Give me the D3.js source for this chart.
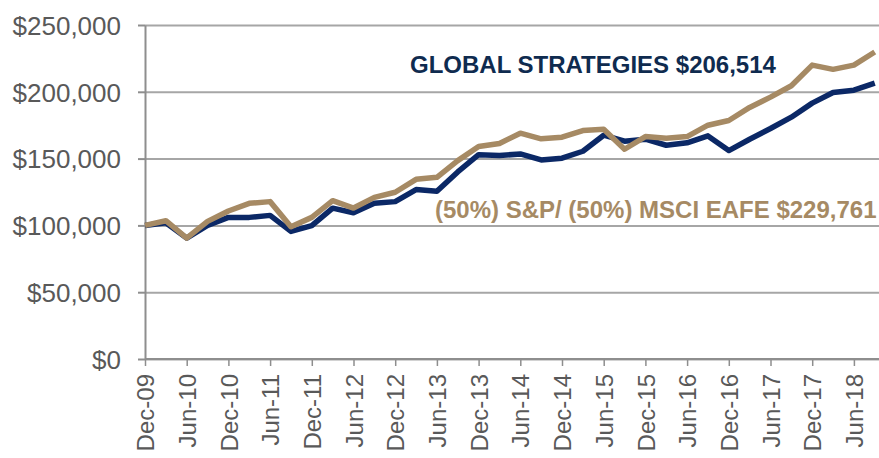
<!DOCTYPE html>
<html>
<head>
<meta charset="utf-8">
<script src="https://cdn.jsdelivr.net/npm/d3@7"></script>
<style>
  body { margin: 0; background: #fff; }
  svg { display: block; font-family: Arial, "Liberation Sans", sans-serif; }
</style>
</head>
<body>
<div id="chart"></div>
<script>
// Quarter-end labels, Dec-09 .. Sep-18
const quarters = [
  "Dec-09","Mar-10","Jun-10","Sep-10","Dec-10","Mar-11","Jun-11","Sep-11",
  "Dec-11","Mar-12","Jun-12","Sep-12","Dec-12","Mar-13","Jun-13","Sep-13",
  "Dec-13","Mar-14","Jun-14","Sep-14","Dec-14","Mar-15","Jun-15","Sep-15",
  "Dec-15","Mar-16","Jun-16","Sep-16","Dec-16","Mar-17","Jun-17","Sep-17",
  "Dec-17","Mar-18","Jun-18","Sep-18"
];

// Growth of $100,000
const strategy = [
  100000, 102000, 90500, 100000, 106000, 106000, 107500, 95500,
  99800, 112900, 109500, 116500, 117800, 126800, 125500, 140000,
  152900, 152300, 153500, 149000, 150300, 155500, 167500, 163000,
  164500, 160000, 161800, 167000, 156000, 164500, 172500, 181000,
  191500, 199500, 201200, 206514
];
const benchmark = [
  100000, 103500, 90500, 103000, 110800, 116500, 117800, 99000,
  106000, 118500, 113000, 121000, 124800, 134500, 136000, 148500,
  159000, 161300, 169000, 164800, 166000, 171000, 172000, 157000,
  166500, 165200, 166500, 175000, 178500, 188300, 196000, 204500,
  220000, 216800, 220000, 229761
];

const yTicks = [0, 50000, 100000, 150000, 200000, 250000];
const xTickLabels = quarters.filter((d, i) => i % 2 === 0);

const strategyLabel = "GLOBAL STRATEGIES $206,514";
const benchmarkLabel = "(50%) S&P/ (50%) MSCI EAFE $229,761";

const W = 879, H = 458;
const margin = {left: 145, right: 879, top: 25, bottom: 359};
const step = 20.85;

const svg = d3.select("#chart").append("svg")
  .attr("width", W).attr("height", H);

const x = d3.scalePoint()
  .domain(quarters)
  .range([margin.left, margin.left + step * (quarters.length - 1)]);

const y = d3.scaleLinear()
  .domain([0, 250000])
  .range([margin.bottom, margin.top]);

const gray = "#8e8e8e";

// gridlines
svg.append("g")
  .attr("transform", `translate(${margin.left},0)`)
  .call(d3.axisLeft(y).tickValues(yTicks).tickSize(-(margin.right - margin.left)).tickFormat(""))
  .call(g => g.select(".domain").remove())
  .call(g => g.selectAll("line").attr("stroke", "#a6a6a6").attr("stroke-width", 2));

// y axis
svg.append("g")
  .attr("transform", `translate(${margin.left},0)`)
  .call(d3.axisLeft(y).tickValues(yTicks).tickSize(7).tickSizeOuter(0).tickPadding(17)
    .tickFormat(d => "$" + d3.format(",")(d)))
  .call(g => g.select(".domain").attr("stroke", gray).attr("stroke-width", 2))
  .call(g => g.selectAll("line").attr("stroke", gray).attr("stroke-width", 2))
  .call(g => g.selectAll("text")
    .attr("fill", "#595959")
    .style("font-size", "26px")
    .attr("dy", "0.36em"));

// x axis
svg.append("g")
  .attr("transform", `translate(0,${margin.bottom})`)
  .call(d3.axisBottom(x).tickValues(xTickLabels).tickSize(7).tickSizeOuter(0))
  .call(g => g.select(".domain").attr("d", `M${margin.left},0H${margin.right}`)
    .attr("stroke", gray).attr("stroke-width", 2))
  .call(g => g.selectAll("line").attr("stroke", gray).attr("stroke-width", 1.5))
  .call(g => g.selectAll("text")
    .attr("fill", "#595959")
    .style("font-size", "24px")
    .attr("transform", "rotate(-90)")
    .attr("text-anchor", "end")
    .attr("x", -15)
    .attr("y", 0)
    .attr("dy", "0.36em"));

const line = d3.line()
  .x((d, i) => x(quarters[i]))
  .y(d => y(d));

svg.append("path")
  .datum(strategy)
  .attr("fill", "none")
  .attr("stroke", "#0b2866")
  .attr("stroke-width", 5.5)
  .attr("stroke-linejoin", "round")
  .attr("d", line);

svg.append("path")
  .datum(benchmark)
  .attr("fill", "none")
  .attr("stroke", "#a68a64")
  .attr("stroke-width", 5.5)
  .attr("stroke-linejoin", "round")
  .attr("d", line);

// series labels
svg.append("text")
  .attr("x", 410).attr("y", 73)
  .attr("fill", "#0f2b4f")
  .style("font-size", "24px")
  .style("font-weight", "bold")
  .text(strategyLabel);

svg.append("text")
  .attr("x", 435).attr("y", 218)
  .attr("fill", "#a68a64")
  .style("font-size", "24px")
  .style("font-weight", "bold")
  .text(benchmarkLabel);
</script>
</body>
</html>
